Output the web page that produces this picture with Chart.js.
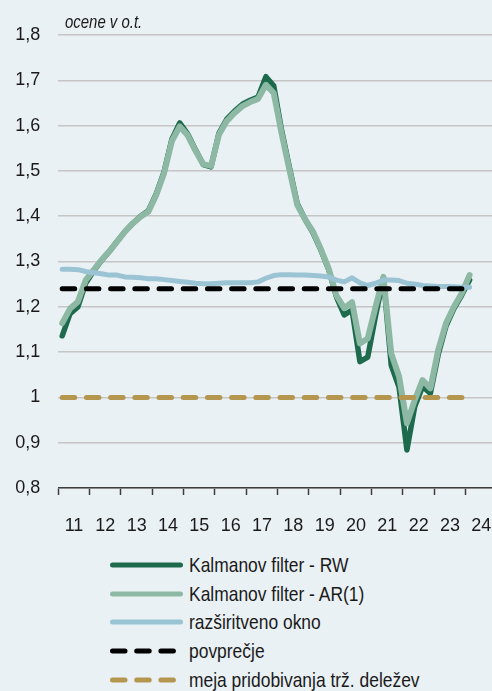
<!DOCTYPE html>
<html lang="sl">
<head>
<meta charset="utf-8">
<script src="https://cdn.jsdelivr.net/npm/chart.js@4.4.1/dist/chart.umd.min.js"></script>
<style>
  html, body { margin: 0; padding: 0; background: #eaf1f5; overflow: hidden; }
  body { width: 492px; height: 691px; position: relative;
         font-family: 'Liberation Sans Narrow', 'Arial Narrow', 'Liberation Sans', Arial, sans-serif; color: #1a1a1a; }
  #wrap { position: absolute; left: 0; top: 0; width: 520px; height: 540px; }
  .row { position: absolute; left: 0; height: 28px; display: flex; align-items: center; white-space: nowrap; font-size: 21px; }
  .row svg { display: block; flex: none; }
  /* narrow look: squeeze the regular face horizontally */
  .row span { display: inline-block; transform: scaleX(0.83); transform-origin: left center; margin-left: 1px; }
</style>
</head>
<body>
<div id="wrap"><canvas id="chart" width="520" height="540"></canvas></div>
<div id="legend"></div>

<script>
// ─── Data (quarterly, 2011Q1 – 2024Q1) ─────────────────────────────────────────
const firstYear = 2011;
const yearLabels = ['11', '12', '13', '14', '15', '16', '17', '18', '19', '20', '21', '22', '23', '24'];

const kalmanRW = [
  1.136, 1.185, 1.2, 1.252, 1.279, 1.302, 1.322, 1.344, 1.366, 1.384,
  1.4, 1.412, 1.449, 1.498, 1.57, 1.606, 1.582, 1.547, 1.514, 1.509,
  1.583, 1.614, 1.632, 1.647, 1.656, 1.663, 1.708, 1.688, 1.59, 1.508,
  1.428, 1.393, 1.364, 1.326, 1.283, 1.222, 1.182, 1.193, 1.079, 1.089,
  1.18, 1.264, 1.071, 1.022, 0.884, 0.98, 1.024, 1.009, 1.095, 1.158,
  1.196, 1.226, 1.259
];
const kalmanAR = [
  1.164, 1.196, 1.211, 1.259, 1.281, 1.303, 1.322, 1.344, 1.366, 1.384,
  1.399, 1.41, 1.447, 1.495, 1.566, 1.598, 1.579, 1.545, 1.515, 1.511,
  1.58, 1.61, 1.628, 1.643, 1.652, 1.659, 1.69, 1.672, 1.583, 1.503,
  1.425, 1.393, 1.366, 1.328, 1.285, 1.225, 1.197, 1.21, 1.119, 1.13,
  1.2, 1.266, 1.097, 1.046, 0.943, 0.994, 1.038, 1.02, 1.105, 1.164,
  1.2, 1.23, 1.27
];
const razsirjenoOkno = [
  1.283, 1.283, 1.282, 1.278, 1.275, 1.273, 1.27, 1.27, 1.266, 1.265,
  1.264, 1.262, 1.262, 1.26, 1.258, 1.256, 1.254, 1.252, 1.251, 1.251,
  1.252, 1.253, 1.253, 1.253, 1.253, 1.255, 1.263, 1.269, 1.271, 1.271,
  1.27, 1.27, 1.269, 1.268, 1.266, 1.259, 1.255, 1.264, 1.253, 1.247,
  1.252, 1.259, 1.259, 1.258, 1.252, 1.25, 1.247, 1.246, 1.245, 1.245,
  1.244, 1.243, 1.243
];
const povprecje = 1.24;
const mejaDelezev = 1.0;

// ─── Helpers ───────────────────────────────────────────────────────────────────
const qx = i => firstYear + (i + 0.5) / 4;
const toPoints = arr => arr.map((v, i) => ({ x: qx(i), y: v }));
const flatLine = v => [{ x: qx(0), y: v }, { x: qx(kalmanRW.length - 1), y: v }];

const FONT = "'Liberation Sans Narrow', 'Arial Narrow', 'Liberation Sans', Arial, sans-serif";
const AXIS = '#3c3c3c';

const datasets = [
  { label: 'Kalmanov filter - RW', data: toPoints(kalmanRW), borderColor: '#1d6b4c', borderWidth: 5.5, order: 5 },
  { label: 'Kalmanov filter - AR(1)', data: toPoints(kalmanAR), borderColor: '#8db8a4', borderWidth: 6, order: 4 },
  { label: 'razširitveno okno', data: toPoints(razsirjenoOkno), borderColor: '#9ac3d4', borderWidth: 5, order: 3 },
  { label: 'povprečje', data: flatLine(povprecje), borderColor: '#000000', borderWidth: 5, borderDash: [12.5, 11.7], order: 2 },
  { label: 'meja pridobivanja trž. deležev', data: flatLine(mejaDelezev), borderColor: '#b4964f', borderWidth: 5, borderDash: [12.5, 11.7], order: 1 }
].map(d => ({ ...d, pointRadius: 0, tension: 0, fill: false, borderCapStyle: 'round', borderJoinStyle: 'round' }));

// subtitle inside the canvas (squeezed like a narrow face)
const subtitlePlugin = {
  id: 'subtitle',
  afterDraw(chart) {
    const ctx = chart.ctx;
    ctx.save();
    ctx.translate(65, 28);
    ctx.scale(0.83, 1);
    ctx.font = `italic 18px ${FONT}`;
    ctx.fillStyle = '#1a1a1a';
    ctx.textBaseline = 'alphabetic';
    ctx.fillText('ocene v o.t.', 0, 0);
    ctx.restore();
  }
};

new Chart(document.getElementById('chart'), {
  type: 'line',
  data: { datasets },
  options: {
    responsive: false,
    animation: false,
    layout: { padding: { top: 35, right: 23, left: 0, bottom: 0 } },
    plugins: { legend: { display: false }, tooltip: { enabled: false } },
    scales: {
      x: {
        type: 'linear', min: 2011, max: 2025,
        ticks: {
          stepSize: 0.5, autoSkip: false, maxRotation: 0, padding: 20,
          color: '#1a1a1a', font: { family: FONT, size: 18 },
          callback: v => Number.isInteger(v) ? '' : (yearLabels[Math.floor(v) - firstYear] || '')
        },
        grid: {
          drawOnChartArea: false, tickLength: 7, tickWidth: 1.5,
          tickColor: ctx => Number.isInteger(ctx.tick.value) ? AXIS : 'rgba(0,0,0,0)'
        },
        border: { color: AXIS, width: 1.5 },
        afterFit: s => { s.height = 52; }
      },
      y: {
        min: 0.8, max: 1.8,
        ticks: {
          stepSize: 0.1, padding: 18, color: '#1a1a1a', font: { family: FONT, size: 18 },
          callback: v => Math.abs(v - 1) < 1e-9 ? '1' : v.toFixed(1).replace('.', ',')
        },
        grid: { color: '#c5c5c5', lineWidth: 1.5, drawTicks: false },
        border: { display: false },
        afterFit: s => { s.width = 58.3; }
      }
    }
  },
  plugins: [subtitlePlugin]
});

// ─── Legend (HTML, one row per series) ─────────────────────────────────────────
const legend = document.getElementById('legend');
datasets.forEach((d, i) => {
  const row = document.createElement('div');
  row.className = 'row';
  row.style.top = (551 + i * 28.7) + 'px';
  const dash = d.borderDash ? `stroke-dasharray="${d.borderDash.join(' ')}"` : '';
  row.innerHTML =
    `<svg width="188" height="28"><line x1="112.5" y1="14" x2="180.5" y2="14" stroke="${d.borderColor}" ` +
    `stroke-width="5" stroke-linecap="round" ${dash}/></svg><span>${d.label}</span>`;
  legend.appendChild(row);
});
</script>
</body>
</html>
